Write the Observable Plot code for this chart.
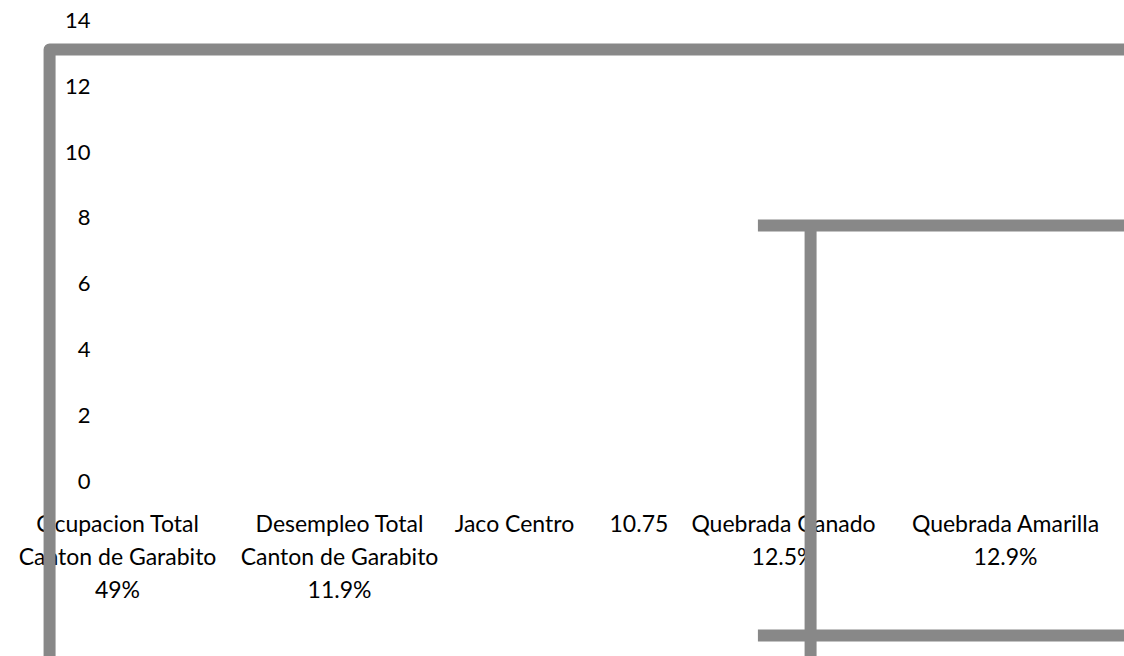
<!DOCTYPE html>
<html>
<head>
<meta charset="utf-8">
<script src="https://cdn.jsdelivr.net/npm/d3@7"></script>
<script src="https://cdn.jsdelivr.net/npm/@observablehq/plot@0.6"></script>
<style>
  html, body { margin: 0; padding: 0; background: #fff; }
  svg { overflow: hidden; }
</style>
</head>
<body>
<div id="chart"></div>
<script>
// Categories (band index 0..4) and their wrapped labels
const categories = [
  "Ocupacion Total\nCanton de Garabito\n49%",
  "Desempleo Total\nCanton de Garabito\n11.9%",
  "Jaco Centro\u00a0\u00a0\u00a0\u00a0\u00a0 10.75",
  "Quebrada Ganado\n12.5%",
  "Quebrada Amarilla\n12.9%"
];
const yTicks = [0, 2, 4, 6, 8, 10, 12, 14];

// Broken outline strokes as drawn in the source (x in category units, y in value units)
const outlineA = [
  {x: 5.3, y: 13.13},
  {x: 0.194, y: 13.13},
  {x: 0.194, y: -6}
];
const outlineBTop = [{x1: 3.387, x2: 5.3, y: 7.78}];
const outlineBBottom = [{x1: 3.387, x2: 5.3, y: -4.68}];
const outlineBSide = [{x: 3.622, y1: 7.78, y2: -6}];

const catData = categories.map((c, i) => ({label: c, x: i + 0.5}));
const gray = "#888888";
const font = "Lato, 'Open Sans', sans-serif";

const chart = Plot.plot({
  width: 1124,
  height: 656,
  marginLeft: 6,
  marginRight: 8,
  marginTop: 20.5,
  marginBottom: 175,
  x: {domain: [0, 5], axis: null},
  y: {domain: [0, 14], axis: null},
  style: {fontFamily: font, background: "#fff"},
  marks: [
    Plot.text(yTicks, {y: d => d, text: d => String(d), frameAnchor: "left", dx: 84, textAnchor: "end", lineAnchor: "middle", fontSize: 22, fill: "#000"}),
    Plot.text(catData, {x: "x", y: () => 0, text: "label", lineAnchor: "top", dy: 27, lineHeight: 33 / 23, fontSize: 23, fill: "#000", textAnchor: "middle"}),
    Plot.line(outlineA, {x: "x", y: "y", stroke: gray, strokeWidth: 12, strokeLinejoin: "round", strokeLinecap: "butt", clip: false}),
    Plot.ruleY(outlineBTop, {x1: "x1", x2: "x2", y: "y", stroke: gray, strokeWidth: 12}),
    Plot.ruleY(outlineBBottom, {x1: "x1", x2: "x2", y: "y", stroke: gray, strokeWidth: 12}),
    Plot.ruleX(outlineBSide, {x: "x", y1: "y1", y2: "y2", stroke: gray, strokeWidth: 12})
  ]
});
document.getElementById("chart").appendChild(chart);
</script>
</body>
</html>
